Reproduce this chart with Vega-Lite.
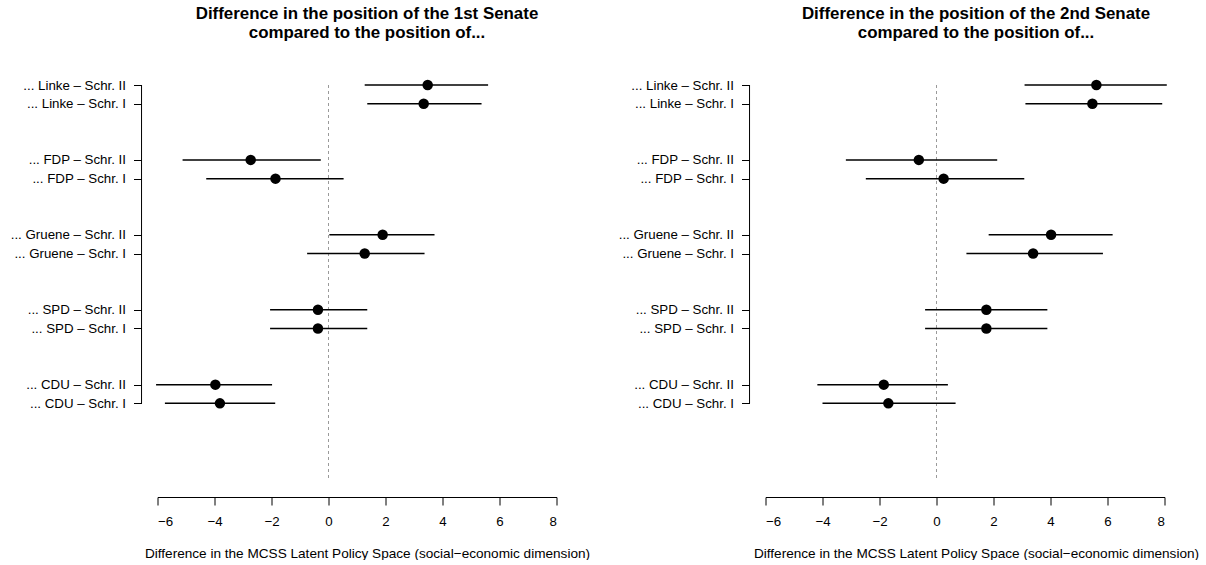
{
  "$schema": "https://vega.github.io/schema/vega-lite/v6.json",
  "padding": {"left": 9.5, "top": 5, "right": 0, "bottom": 0},
  "config": {
    "font": "Liberation Sans",
    "view": {"stroke": null},
    "axis": {"grid": false, "labelColor": "black", "tickColor": "black", "domainColor": "black", "titleColor": "black", "labelFont": "Liberation Sans", "titleFont": "Liberation Sans"}
  },
  "datasets": {
    "senate1": [
      {"label": "... Linke – Schr. II", "est": 3.48, "lo": 1.27, "hi": 5.60},
      {"label": "... Linke – Schr. I", "est": 3.34, "lo": 1.36, "hi": 5.37},
      {"label": "... FDP – Schr. II", "est": -2.73, "lo": -5.12, "hi": -0.27},
      {"label": "... FDP – Schr. I", "est": -1.86, "lo": -4.29, "hi": 0.53},
      {"label": "... Gruene – Schr. II", "est": 1.90, "lo": 0.03, "hi": 3.72},
      {"label": "... Gruene – Schr. I", "est": 1.27, "lo": -0.75, "hi": 3.37},
      {"label": "... SPD – Schr. II", "est": -0.37, "lo": -2.05, "hi": 1.36},
      {"label": "... SPD – Schr. I", "est": -0.37, "lo": -2.05, "hi": 1.36},
      {"label": "... CDU – Schr. II", "est": -3.97, "lo": -6.05, "hi": -1.98},
      {"label": "... CDU – Schr. I", "est": -3.81, "lo": -5.74, "hi": -1.87}
    ],
    "senate2": [
      {"label": "... Linke – Schr. II", "est": 5.61, "lo": 3.09, "hi": 8.08},
      {"label": "... Linke – Schr. I", "est": 5.47, "lo": 3.12, "hi": 7.92},
      {"label": "... FDP – Schr. II", "est": -0.62, "lo": -3.18, "hi": 2.13},
      {"label": "... FDP – Schr. I", "est": 0.25, "lo": -2.48, "hi": 3.08},
      {"label": "... Gruene – Schr. II", "est": 4.02, "lo": 1.83, "hi": 6.18},
      {"label": "... Gruene – Schr. I", "est": 3.39, "lo": 1.05, "hi": 5.84},
      {"label": "... SPD – Schr. II", "est": 1.75, "lo": -0.40, "hi": 3.89},
      {"label": "... SPD – Schr. I", "est": 1.75, "lo": -0.40, "hi": 3.89},
      {"label": "... CDU – Schr. II", "est": -1.85, "lo": -4.18, "hi": 0.40},
      {"label": "... CDU – Schr. I", "est": -1.69, "lo": -4.00, "hi": 0.67}
    ]
  },
  "spacing": 209,
  "bounds": "flush",
  "hconcat": [
    {
      "width": 399,
      "height": 412,
      "title": {"text": ["Difference in the position of the 1st Senate", "compared to the position of..."], "fontSize": 16.9, "fontWeight": "bold", "color": "black", "anchor": "middle", "dx": 10, "lineHeight": 19, "offset": 36},
      "layer": [
        {
          "data": {"values": [{}]},
          "mark": {"type": "rule", "strokeDash": [3, 3], "color": "#9a9a9a", "strokeWidth": 1},
          "encoding": {
            "x": {"datum": 0, "type": "quantitative", "scale": {"domain": [-6, 8], "nice": false, "zero": false},
              "axis": {"values": [-6, -4, -2, 0, 2, 4, 6, 8], "tickSize": 8, "labelPadding": 9, "labelFontSize": 13.3, "title": "Difference in the MCSS Latent Policy Space (social−economic dimension)", "titleFontSize": 13.6, "titleFontWeight": "normal", "titleX": 209.5, "titleY": 60, "titleBaseline": "alphabetic", "domainWidth": 1, "tickWidth": 1}},
            "y": {"datum": "... Linke – Schr. II", "type": "nominal",
              "scale": {"type": "point", "padding": 0, "domain": ["... Linke – Schr. II", "... Linke – Schr. I", "gap1", "gap2", "... FDP – Schr. II", "... FDP – Schr. I", "gap3", "gap4", "... Gruene – Schr. II", "... Gruene – Schr. I", "gap5", "gap6", "... SPD – Schr. II", "... SPD – Schr. I", "gap7", "gap8", "... CDU – Schr. II", "... CDU – Schr. I", "b1", "b2", "b3", "b4", "b5"]},
              "axis": {"values": ["... Linke – Schr. II", "... Linke – Schr. I", "... FDP – Schr. II", "... FDP – Schr. I", "... Gruene – Schr. II", "... Gruene – Schr. I", "... SPD – Schr. II", "... SPD – Schr. I", "... CDU – Schr. II", "... CDU – Schr. I"], "domain": false, "offset": 16, "tickSize": 8, "labelPadding": 8, "labelFontSize": 13.3, "title": null}},
            "y2": {"datum": "b4"}
          }
        },
        {
          "data": {"values": [{}]},
          "mark": {"type": "rule", "color": "black", "strokeWidth": 1},
          "encoding": {
            "x": {"datum": -6.56, "type": "quantitative"},
            "y": {"datum": "... Linke – Schr. II", "type": "nominal"},
            "y2": {"datum": "... CDU – Schr. I"}
          }
        },
        {
          "data": {"name": "senate1"},
          "mark": {"type": "rule", "color": "black", "strokeWidth": 1.5},
          "encoding": {
            "x": {"field": "lo", "type": "quantitative"},
            "x2": {"field": "hi"},
            "y": {"field": "label", "type": "nominal"}
          }
        },
        {
          "data": {"name": "senate1"},
          "mark": {"type": "circle", "color": "black", "opacity": 1, "size": 110},
          "encoding": {
            "x": {"field": "est", "type": "quantitative"},
            "y": {"field": "label", "type": "nominal"}
          }
        }
      ]
    },
    {
      "width": 399,
      "height": 412,
      "title": {"text": ["Difference in the position of the 2nd Senate", "compared to the position of..."], "fontSize": 16.9, "fontWeight": "bold", "color": "black", "anchor": "middle", "dx": 11, "lineHeight": 19, "offset": 36},
      "layer": [
        {
          "data": {"values": [{}]},
          "mark": {"type": "rule", "strokeDash": [3, 3], "color": "#9a9a9a", "strokeWidth": 1},
          "encoding": {
            "x": {"datum": 0, "type": "quantitative", "scale": {"domain": [-6, 8], "nice": false, "zero": false},
              "axis": {"values": [-6, -4, -2, 0, 2, 4, 6, 8], "tickSize": 8, "labelPadding": 9, "labelFontSize": 13.3, "title": "Difference in the MCSS Latent Policy Space (social−economic dimension)", "titleFontSize": 13.6, "titleFontWeight": "normal", "titleX": 210.5, "titleY": 60, "titleBaseline": "alphabetic", "domainWidth": 1, "tickWidth": 1}},
            "y": {"datum": "... Linke – Schr. II", "type": "nominal",
              "scale": {"type": "point", "padding": 0, "domain": ["... Linke – Schr. II", "... Linke – Schr. I", "gap1", "gap2", "... FDP – Schr. II", "... FDP – Schr. I", "gap3", "gap4", "... Gruene – Schr. II", "... Gruene – Schr. I", "gap5", "gap6", "... SPD – Schr. II", "... SPD – Schr. I", "gap7", "gap8", "... CDU – Schr. II", "... CDU – Schr. I", "b1", "b2", "b3", "b4", "b5"]},
              "axis": {"values": ["... Linke – Schr. II", "... Linke – Schr. I", "... FDP – Schr. II", "... FDP – Schr. I", "... Gruene – Schr. II", "... Gruene – Schr. I", "... SPD – Schr. II", "... SPD – Schr. I", "... CDU – Schr. II", "... CDU – Schr. I"], "domain": false, "offset": 16, "tickSize": 8, "labelPadding": 8, "labelFontSize": 13.3, "title": null}},
            "y2": {"datum": "b4"}
          }
        },
        {
          "data": {"values": [{}]},
          "mark": {"type": "rule", "color": "black", "strokeWidth": 1},
          "encoding": {
            "x": {"datum": -6.56, "type": "quantitative"},
            "y": {"datum": "... Linke – Schr. II", "type": "nominal"},
            "y2": {"datum": "... CDU – Schr. I"}
          }
        },
        {
          "data": {"name": "senate2"},
          "mark": {"type": "rule", "color": "black", "strokeWidth": 1.5},
          "encoding": {
            "x": {"field": "lo", "type": "quantitative"},
            "x2": {"field": "hi"},
            "y": {"field": "label", "type": "nominal"}
          }
        },
        {
          "data": {"name": "senate2"},
          "mark": {"type": "circle", "color": "black", "opacity": 1, "size": 110},
          "encoding": {
            "x": {"field": "est", "type": "quantitative"},
            "y": {"field": "label", "type": "nominal"}
          }
        }
      ]
    }
  ]
}
